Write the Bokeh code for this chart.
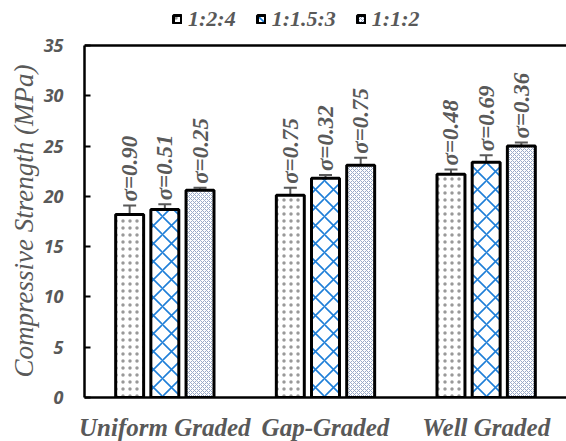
import math
from bokeh.plotting import figure
from bokeh.models import (ColumnDataSource, FactorRange, Range1d, Whisker, TeeHead,
                          Legend, LegendItem, Span, Title)
from bokeh.transform import dodge
from bokeh.core.properties import value
from bokeh.embed import file_html
from bokeh.resources import INLINE

groups = ["Uniform Graded", "Gap-Graded", "Well Graded"]
mixes = ["1:2:4", "1:1.5:3", "1:1:2"]
strength_124 = [18.2, 20.1, 22.2]
strength_1153 = [18.7, 21.8, 23.4]
strength_112 = [20.6, 23.1, 25.0]
sd_124 = [0.90, 0.75, 0.48]
sd_1153 = [0.51, 0.32, 0.69]
sd_112 = [0.25, 0.75, 0.36]
y_ticks = [0, 5, 10, 15, 20, 25, 30, 35]
y_max = 35
y_title = "Compressive Strength (MPa)"

GRAY = "#595959"
SERIF = "Liberation Serif"

# frame extends above the 35 line so the legend (inside the frame) is not clipped
p = figure(x_range=FactorRange(*groups, range_padding=0), y_range=Range1d(0, 39.08),
           frame_width=482, frame_height=393, output_backend="svg", toolbar_location=None,
           min_border_left=84, min_border_right=0, min_border_top=4, min_border_bottom=44)
p.outline_line_color = None
p.grid.grid_line_color = None
p.background_fill_color = "white"

series = [
    (mixes[0], strength_124, sd_124, -0.219, dict(hatch_pattern="dot", hatch_scale=7, hatch_weight=1.8, hatch_color="#999999")),
    (mixes[1], strength_1153, sd_1153, 0.0, dict(hatch_pattern="diagonal_cross", hatch_scale=18, hatch_weight=1.6, hatch_color="#1f7fd8")),
    (mixes[2], strength_112, sd_112, 0.219, dict(hatch_pattern="diagonal_cross", hatch_scale=4, hatch_weight=1, hatch_color="#9aaac8")),
]

items = []
for name, vals, sds, off, hatch in series:
    src = ColumnDataSource(dict(
        group=groups, value=vals, sd=sds,
        upper=[v + s for v, s in zip(vals, sds)],
        lower=[v - s for v, s in zip(vals, sds)],
        label=[f"σ={s:.2f}" for s in sds],
        label_y=[v + s + 0.4 for v, s in zip(vals, sds)],
    ))
    xs = dodge("group", off, range=p.x_range)
    r = p.vbar(x=xs, top="value", width=0.174, source=src, fill_color="white",
               line_color="black", line_width=3, **hatch)
    items.append(LegendItem(label=name, renderers=[r]))
    w = Whisker(base=xs, upper="upper", lower="lower", source=src,
                line_color=GRAY, line_width=2,
                upper_head=TeeHead(size=13, line_color=GRAY, line_width=2),
                lower_head=TeeHead(size=13, line_color=GRAY, line_width=2))
    p.add_layout(w)
    p.text(x=xs, y="label_y", text="label", source=src, angle=math.pi / 2,
           text_align="left", text_baseline="middle", text_font=value(SERIF),
           text_font_style="bold italic", text_font_size="23px", text_color=GRAY)

top_line = Span(location=y_max, dimension="width", line_color="black", line_width=2.5)
p.add_layout(top_line)

legend = Legend(items=items, orientation="horizontal", location=(88, 365),
                label_text_font=SERIF, label_text_font_style="bold italic",
                label_text_font_size="22px", label_text_color=GRAY,
                glyph_width=10, glyph_height=10, spacing=20, padding=2, margin=0,
                label_standoff=6, border_line_color=None, background_fill_alpha=0)
p.add_layout(legend)

# y-axis title, starting a little above the x axis as in the reference
ytitle = Title(text=y_title, align="left", offset=20, standoff=4,
               text_font=SERIF, text_font_style="italic", text_font_size="27px",
               text_color=GRAY)
p.add_layout(ytitle, "left")

p.yaxis.ticker = y_ticks
p.yaxis.bounds = (0, y_max)
p.yaxis.major_label_text_font = "Open Sans"
p.yaxis.major_label_text_font_style = "bold italic"
p.yaxis.major_label_text_font_size = "18px"
p.yaxis.major_label_text_color = GRAY
p.yaxis.major_label_standoff = 21
p.yaxis.major_tick_in = 6
p.yaxis.major_tick_out = 0
p.yaxis.major_tick_line_width = 2
p.yaxis.minor_tick_line_color = None
p.yaxis.axis_line_width = 2.5

p.xaxis.major_tick_line_color = None
p.xaxis.minor_tick_line_color = None
p.xaxis.axis_line_width = 2.5
p.xaxis.major_label_text_font = SERIF
p.xaxis.major_label_text_font_style = "bold italic"
p.xaxis.major_label_text_font_size = "25px"
p.xaxis.major_label_text_color = GRAY
p.xaxis.major_label_standoff = 10

open("out.html", "w").write(file_html(p, INLINE))
